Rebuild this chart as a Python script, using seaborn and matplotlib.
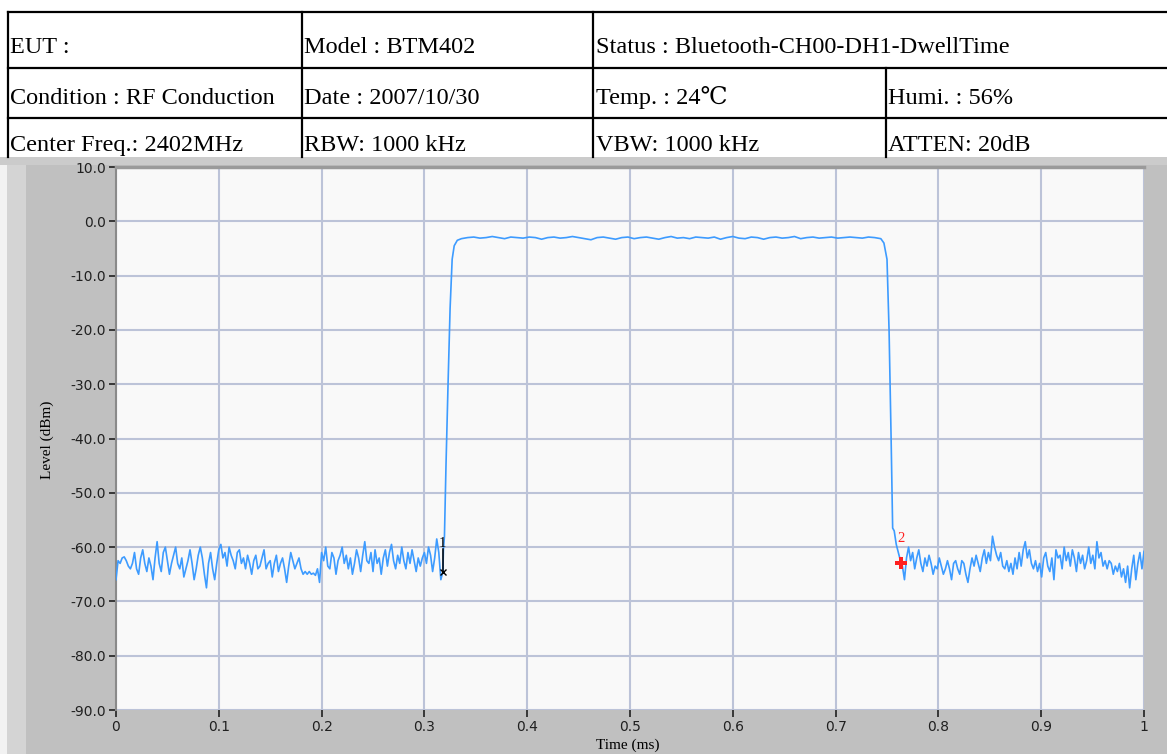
import numpy as np
import pandas as pd
import matplotlib
matplotlib.use("Agg")
import matplotlib.pyplot as plt
import seaborn as sns
from matplotlib.lines import Line2D
from matplotlib.patches import Rectangle

# ---------------- data ----------------
header_row1 = ["EUT :", "Model : BTM402", "Status : Bluetooth-CH00-DH1-DwellTime"]
header_row2 = ["Condition : RF Conduction", "Date : 2007/10/30", "Temp. : 24\u2103", "Humi. : 56%"]
header_row3 = ["Center Freq.: 2402MHz", "RBW: 1000 kHz", "VBW: 1000 kHz", "ATTEN: 20dB"]

x_ticks = [0, 0.1, 0.2, 0.3, 0.4, 0.5, 0.6, 0.7, 0.8, 0.9, 1.0]
x_tick_labels = ["0", "0.1", "0.2", "0.3", "0.4", "0.5", "0.6", "0.7", "0.8", "0.9", "1"]
y_ticks = [10, 0, -10, -20, -30, -40, -50, -60, -70, -80, -90]
y_tick_labels = ["10.0", "0.0", "-10.0", "-20.0", "-30.0", "-40.0", "-50.0",
                 "-60.0", "-70.0", "-80.0", "-90.0"]

# noise floor before the burst (0 .. 0.318 ms)
pre_lvl = [-66, -62.5, -63, -62, -61.8, -62.5, -63.5, -64, -63, -61,
           -64, -65, -62, -60.5, -63, -64.5, -62, -63.5, -66, -62,
           -59, -63, -64.5, -61, -60, -62.5, -65, -63, -61.5, -60,
           -63, -64, -62, -65.5, -64, -62.5, -60.5, -63, -66, -64,
           -61.5, -60, -62, -65, -67.5, -63, -61, -64, -66, -63,
           -60.5, -59.5, -62, -61, -63.5, -60, -61.5, -62.5, -64, -61,
           -60.5, -63, -62, -64, -61.5, -63, -65, -62.5, -61.5, -64,
           -63.5, -62, -60.5, -64, -63, -62.5, -65.5, -63, -61.5, -64.5,
           -63, -62, -64, -66.5, -63.5, -61, -62.5, -64, -63, -62,
           -64, -65, -64.5, -65, -64.5, -65, -64.8, -65.2, -64, -66.5,
           -61, -62.5, -60, -63.5, -64, -61, -62, -65, -62.5, -61.5,
           -60, -63, -61.5, -64, -62, -65, -63, -60.5, -62, -64.5,
           -61.5, -59, -62.5, -63, -61, -64.5, -60.5, -63, -62, -65,
           -62, -60.5, -63.5, -61, -59.5, -62.5, -64, -61.5, -63, -60,
           -62.5, -64, -61, -63, -60.5, -62.5, -64.5, -62, -63.5, -62,
           -61, -63, -60, -61.5, -64.5, -62, -58.5, -61, -66, -64.5]

# rising edge
rise_t = [0.3185, 0.3195, 0.321, 0.323, 0.325, 0.327, 0.329, 0.332]
rise_lvl = [-60.5, -58, -45, -30, -16, -7, -4.5, -3.5]

# burst top (0.336 .. 0.744 ms)
top_lvl = [-3.2, -3.0, -2.9, -3.1, -3.0, -2.8, -3.0, -3.2, -2.9, -3.0,
           -3.1, -2.9, -3.0, -3.3, -3.0, -2.9, -3.1, -3.0, -2.8, -3.0,
           -3.2, -3.4, -3.0, -2.9, -3.1, -3.3, -3.0, -2.9, -3.2, -3.0,
           -2.9, -3.1, -3.3, -3.0, -2.8, -3.1, -3.0, -3.2, -2.9, -3.0,
           -3.1, -2.9, -3.3, -3.0, -2.8, -3.1, -3.2, -2.9, -3.0, -3.3,
           -3.0, -2.9, -3.1, -3.0, -2.8, -3.2, -3.0, -2.9, -3.1, -3.0,
           -2.9, -3.1, -3.0, -2.9, -3.0, -3.1, -2.9, -3.0, -3.2]

# falling edge
fall_t = [0.747, 0.750, 0.752, 0.754, 0.7555, 0.757, 0.759, 0.761, 0.7636]
fall_lvl = [-4, -7, -20, -40, -56.5, -57, -59.5, -61, -62.9]

# noise floor after the burst (0.765 .. 1.0 ms)
post_lvl = [-63.5, -66, -62, -60, -62.5, -61, -64, -62, -60.5, -63,
            -64.5, -62, -63.5, -61.5, -63, -65, -63.5, -64, -62, -63.5,
            -65, -64, -62.5, -64, -66, -63, -62.5, -64, -65, -62.5,
            -63, -65, -66.5, -64, -62, -63.5, -61.5, -63, -64.5, -62,
            -60.5, -63, -61, -62.5, -58, -60, -61.5, -62.5, -61, -63.5,
            -64, -62.5, -64.5, -63, -65, -62, -64, -61, -63.5, -60.5,
            -59, -62, -60.5, -63, -64, -62.5, -64.5, -63, -65.5, -62,
            -61, -63.5, -64.5, -62, -66, -60.5, -62, -61.5, -64, -60,
            -62.5, -61, -63.5, -60.5, -62, -64.5, -61, -63, -61.5, -64,
            -62.5, -60, -63, -61.5, -64, -59, -62, -61, -63.5, -62.5,
            -64, -62.5, -63, -65, -63.5, -64.5, -63, -65.5, -64, -66.5,
            -63.5, -67.5, -64, -61.5, -66, -63, -61, -64, -60.8]

marker1 = (0.318, -64.5)
marker2 = (0.7636, -62.9)

# ---------------- assemble trace ----------------
t = np.concatenate([np.linspace(0.0, 0.318, len(pre_lvl)), rise_t,
                    np.linspace(0.336, 0.744, len(top_lvl)), fall_t,
                    np.linspace(0.765, 1.0, len(post_lvl))])
lvl = np.concatenate([pre_lvl, rise_lvl, top_lvl, fall_lvl, post_lvl])
df = pd.DataFrame({"Time (ms)": t, "Level (dBm)": lvl})

# ---------------- figure ----------------
W, H = 1167, 754
fig = plt.figure(figsize=(W / 100, H / 100), dpi=100)
fig.patch.set_facecolor("white")

def fx(px):
    return px / W

def fy(py):
    return 1 - py / H

# header table lines
lc = "black"
lw = 1.6
row_y = [12, 68, 118, 157]
for y in row_y[:3]:
    fig.add_artist(Line2D([fx(8), fx(1167)], [fy(y), fy(y)], color=lc, lw=lw,
                          transform=fig.transFigure))
for x in [8, 302, 593]:
    fig.add_artist(Line2D([fx(x), fx(x)], [fy(12), fy(157)], color=lc, lw=lw,
                          transform=fig.transFigure))
fig.add_artist(Line2D([fx(886), fx(886)], [fy(68), fy(157)], color=lc, lw=lw,
                      transform=fig.transFigure))

serif = ["Liberation Serif", "DejaVu Serif"]
hdr_fs = 17.5
col_x = [10, 304, 596, 888]
baselines = [53, 104, 151]
for i, txt in enumerate(header_row1):
    fig.text(fx(col_x[i]), fy(baselines[0]), txt, fontsize=hdr_fs, family=serif,
             va="baseline", ha="left")
for i, txt in enumerate(header_row2):
    fig.text(fx(col_x[i]), fy(baselines[1]), txt, fontsize=hdr_fs,
             family=serif + ["Noto Sans CJK SC"], va="baseline", ha="left")
for i, txt in enumerate(header_row3):
    fig.text(fx(col_x[i]), fy(baselines[2]), txt, fontsize=hdr_fs, family=serif,
             va="baseline", ha="left")

# chart panel background
fig.add_artist(Rectangle((0, 0), 1, fy(157), transform=fig.transFigure,
                         facecolor="#c0c0c0", edgecolor="none", zorder=-10))
fig.add_artist(Rectangle((fx(0), 0), fx(7), fy(157), transform=fig.transFigure,
                         facecolor="#f2f2f2", edgecolor="none", zorder=-9))
fig.add_artist(Rectangle((fx(7), 0), fx(19), fy(157), transform=fig.transFigure,
                         facecolor="#d4d4d4", edgecolor="none", zorder=-9))
fig.add_artist(Rectangle((0, fy(165)), 1, fy(157) - fy(165), transform=fig.transFigure,
                         facecolor="#cbcbcb", edgecolor="none", zorder=-9))

ax = fig.add_axes([fx(116), fy(710), fx(1144) - fx(116), fy(167) - fy(710)])
ax.set_facecolor("#f9f9f9")

sns.lineplot(data=df, x="Time (ms)", y="Level (dBm)", estimator=None, sort=False,
             color="#3d9bff", lw=1.2, ax=ax, zorder=3)

# markers
ax.plot([marker1[0], marker1[0]], [-60.3, marker1[1]], color="black", lw=1.1, zorder=4)
ax.plot([marker1[0]], [marker1[1]], marker="x", color="black", ms=5, mew=1.0, zorder=5)
ax.text(marker1[0], marker1[1] + 5.2, "1", color="black", fontsize=10.5, ha="center",
        va="center", family=serif, zorder=5)
ax.plot([marker2[0]], [marker2[1]], marker="P", color="#ff2020", ms=9, mew=0, zorder=5)
ax.text(marker2[0], marker2[1] + 4.4, "2", color="#ff2020", fontsize=10.5, ha="center",
        va="center", family=serif, zorder=5)

ax.set_xlim(0, 1)
ax.set_ylim(-90, 10)
ax.set_xticks(x_ticks)
ax.set_xticklabels(x_tick_labels)
ax.set_yticks(y_ticks)
ax.set_yticklabels(y_tick_labels)
ax.grid(True, color="#bcc3d8", lw=1.5, zorder=0)
ax.set_axisbelow(True)
ax.tick_params(axis="both", direction="out", length=5, width=1.2, color="#202020",
               labelsize=10, labelcolor="#202020", pad=2)
for lab in ax.get_xticklabels() + ax.get_yticklabels():
    lab.set_family("DejaVu Sans")

for s in ["top", "right", "bottom"]:
    ax.spines[s].set_visible(False)
ax.spines["left"].set_color("#8a8a8a")
ax.spines["left"].set_linewidth(1.5)
# top edge of plot area
ax.axhline(10, color="#9a9a9a", lw=2.5, zorder=6, clip_on=False)

ax.set_xlabel("")
ax.set_ylabel("")
fig.text(fx(628), fy(745), "Time (ms)", fontsize=11, family=serif, ha="center", va="center")
fig.text(fx(47), fy(440), "Level (dBm)", fontsize=11, family=serif, ha="center",
         va="center", rotation=90)

fig.savefig("out.png", dpi=100)
